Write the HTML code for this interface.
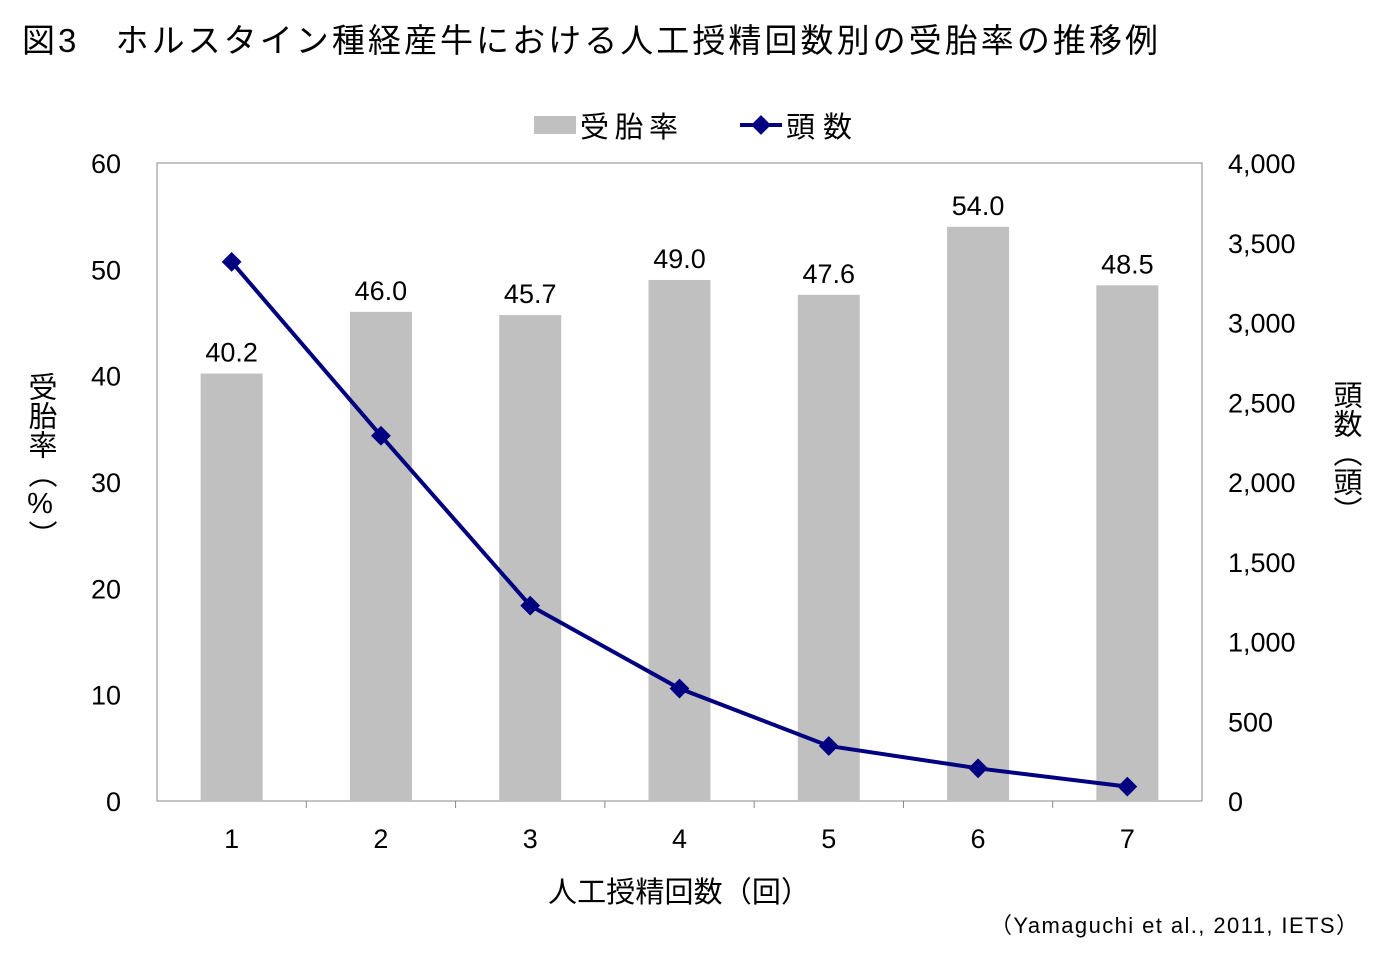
<!DOCTYPE html>
<html><head><meta charset="utf-8">
<style>
body{margin:0;background:#fff;width:1381px;height:957px;overflow:hidden;font-family:"Liberation Sans","Noto Sans CJK JP",sans-serif;}
svg text{font-family:"Liberation Sans","Noto Sans CJK JP",sans-serif;fill:#000;}
.vt{writing-mode:vertical-rl;text-orientation:upright;}
</style></head><body>
<svg id="chart" width="1381" height="957">
<text x="22" y="52" font-size="33" textLength="1136" lengthAdjust="spacing">図3　ホルスタイン種経産牛における人工授精回数別の受胎率の推移例</text>
<g>
<rect x="534" y="116" width="42" height="18" fill="#c0c0c0"/>
<text x="580" y="137" font-size="29" textLength="98">受胎率</text>
<line x1="740" y1="125" x2="782" y2="125" stroke="#000080" stroke-width="4"/>
<rect x="754" y="118" width="14" height="14" fill="#000080" transform="rotate(45 761 125)"/>
<text x="786" y="137" font-size="29" textLength="66">頭数</text>
</g>
<g id="plot"></g>
<text x="548" y="902" font-size="29" textLength="262">人工授精回数（回）</text>
<text x="990" y="933" font-size="22" textLength="368">（Yamaguchi et al., 2011, IETS）</text>
<text class="vt" font-size="29" x="40" y="372">受胎率（%）</text>
<text class="vt" font-size="29" x="1345" y="380">頭数（頭）</text>
</svg>
<script>
const categories=["1","2","3","4","5","6","7"];
const rates=[40.2,46.0,45.7,49.0,47.6,54.0,48.5];
const counts=[3380,2290,1225,705,345,205,90];
const leftTicks=[0,10,20,30,40,50,60];
const rightTicks=[0,500,1000,1500,2000,2500,3000,3500,4000];
const L=157,R=1202,T=163,B=801;
const bw=(R-L)/categories.length;
const yl=v=>B-(v/60)*(B-T);
const yr=v=>B-(v/4000)*(B-T);
const xc=i=>L+bw*(i+0.5);
const g=document.getElementById('plot');
const NS='http://www.w3.org/2000/svg';
function mk(t,a){const e=document.createElementNS(NS,t);for(const k in a)e.setAttribute(k,a[k]);g.appendChild(e);return e;}
let e=mk('rect',{x:L,y:T,width:R-L,height:B-T,fill:'none',stroke:'#888','stroke-width':1});


leftTicks.forEach(v=>{const t=mk('text',{x:121,y:yl(v)+10,'font-size':27,'text-anchor':'end'});t.textContent=v;

});
rightTicks.forEach(v=>{const t=mk('text',{x:1228,y:yr(v)+10,'font-size':27});t.textContent=v.toLocaleString('en-US');

});
categories.forEach((c,i)=>{
const b=mk('rect',{x:xc(i)-31,y:yl(rates[i]),width:62,height:B-yl(rates[i]),fill:'#c0c0c0'});


const l=mk('text',{x:xc(i),y:yl(rates[i])-12,'font-size':27,'text-anchor':'middle'});l.textContent=rates[i].toFixed(1);


const x=mk('text',{x:xc(i),y:848,'font-size':27,'text-anchor':'middle'});x.textContent=c;


if(i>0){const tk=mk('line',{x1:L+bw*i,y1:B,x2:L+bw*i,y2:B+7,stroke:'#888'});

}
});
const p=mk('polyline',{points:counts.map((v,i)=>xc(i)+','+yr(v)).join(' '),fill:'none',stroke:'#000080','stroke-width':4});


counts.forEach((v,i)=>{const m=mk('rect',{x:xc(i)-7,y:yr(v)-7,width:14,height:14,fill:'#000080',transform:`rotate(45 ${xc(i)} ${yr(v)})`});

});
</script>
</body></html>
